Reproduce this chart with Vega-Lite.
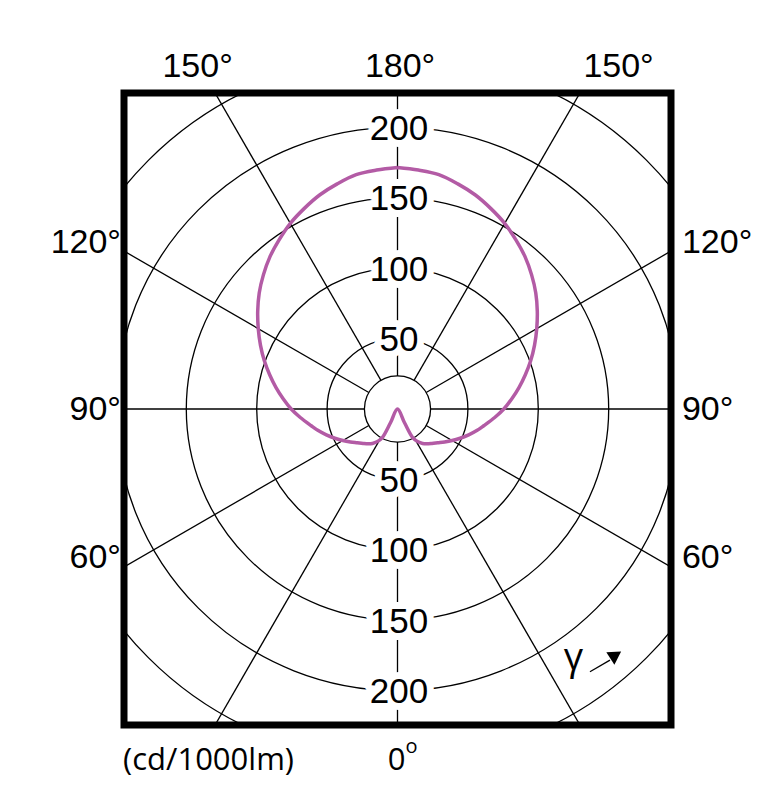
{
  "$schema": "https://vega.github.io/schema/vega-lite/v6.json",
  "width": 547,
  "height": 632,
  "autosize": {"type": "none"},
  "padding": {"left": 124, "top": 93, "right": 104, "bottom": 80},
  "background": "white",
  "config": {
    "view": {"stroke": "black", "strokeWidth": 7},
    "text": {"font": "Liberation Sans"}
  },
  "datasets": {
    "rings": [{"r": 23.5}, {"r": 50}, {"r": 100}, {"r": 150}, {"r": 200}, {"r": 250}],
    "spokes": [{"a": 0}, {"a": 30}, {"a": 60}, {"a": 90}, {"a": 120}, {"a": 150}, {"a": 180}, {"a": 210}, {"a": 240}, {"a": 270}, {"a": 300}, {"a": 330}],
    "curve": [
      {"a": -180, "cd": 171.5}, {"a": -175, "cd": 170.3}, {"a": -170, "cd": 169}, {"a": -165, "cd": 165.5}, {"a": -160, "cd": 161.7},
      {"a": -155, "cd": 157}, {"a": -150, "cd": 152.2}, {"a": -145, "cd": 146.6}, {"a": -140, "cd": 141}, {"a": -135, "cd": 134.7},
      {"a": -130, "cd": 128.2}, {"a": -125, "cd": 121.2}, {"a": -120, "cd": 114.2}, {"a": -115, "cd": 107.4}, {"a": -110, "cd": 100.7},
      {"a": -105, "cd": 94}, {"a": -100, "cd": 87.6}, {"a": -95, "cd": 81.4}, {"a": -90, "cd": 75.5}, {"a": -85, "cd": 69.3},
      {"a": -79, "cd": 62.4}, {"a": -75, "cd": 58.6}, {"a": -70, "cd": 53.8}, {"a": -65, "cd": 49.1}, {"a": -60, "cd": 44.8},
      {"a": -55, "cd": 40.8}, {"a": -50, "cd": 37.3}, {"a": -45, "cd": 34.6}, {"a": -40, "cd": 32.3}, {"a": -36, "cd": 30.3},
      {"a": -32, "cd": 27.5}, {"a": -28, "cd": 23}, {"a": -27, "cd": 11}, {"a": 0, "cd": 0},
      {"a": 27, "cd": 11}, {"a": 28, "cd": 23}, {"a": 32, "cd": 27.5}, {"a": 36, "cd": 30.3}, {"a": 40, "cd": 32.3},
      {"a": 45, "cd": 34.6}, {"a": 50, "cd": 37.3}, {"a": 55, "cd": 40.8}, {"a": 60, "cd": 44.8}, {"a": 65, "cd": 49.1},
      {"a": 70, "cd": 53.8}, {"a": 75, "cd": 58.6}, {"a": 79, "cd": 62.4}, {"a": 85, "cd": 69.3}, {"a": 90, "cd": 75.5},
      {"a": 95, "cd": 81.4}, {"a": 100, "cd": 87.6}, {"a": 105, "cd": 94}, {"a": 110, "cd": 100.7}, {"a": 115, "cd": 107.4},
      {"a": 120, "cd": 114.2}, {"a": 125, "cd": 121.2}, {"a": 130, "cd": 128.2}, {"a": 135, "cd": 134.7}, {"a": 140, "cd": 141},
      {"a": 145, "cd": 146.6}, {"a": 150, "cd": 152.2}, {"a": 155, "cd": 157}, {"a": 160, "cd": 161.7}, {"a": 165, "cd": 165.5},
      {"a": 170, "cd": 169}, {"a": 175, "cd": 170.3}, {"a": 180, "cd": 171.5}
    ],
    "rlabels": [
      {"t": "200", "v": 200, "s": 1}, {"t": "150", "v": 150, "s": 1}, {"t": "100", "v": 100, "s": 1}, {"t": "50", "v": 50, "s": 1},
      {"t": "50", "v": 50, "s": -1}, {"t": "100", "v": 100, "s": -1}, {"t": "150", "v": 150, "s": -1}, {"t": "200", "v": 200, "s": -1}
    ],
    "alabels": [
      {"t": "150°", "x": -142, "y": 236, "g": "top"},
      {"t": "180°", "x": 1.8, "y": 236, "g": "top"},
      {"t": "150°", "x": 157, "y": 236, "g": "top"},
      {"t": "120°", "x": -196.4, "y": 110.6, "g": "left"},
      {"t": "90°", "x": -196.4, "y": -7.5, "g": "left"},
      {"t": "60°", "x": -196.4, "y": -112.7, "g": "left"},
      {"t": "120°", "x": 202, "y": 110.6, "g": "right"},
      {"t": "90°", "x": 202, "y": -7.5, "g": "right"},
      {"t": "60°", "x": 202, "y": -112.7, "g": "right"}
    ],
    "bottom": [
      {"t": "(cd/1000lm)", "x": -194.9, "y": -256.4, "g": "unit"},
      {"t": "0", "x": -0.7, "y": -256.4, "g": "zero"},
      {"t": "o", "x": 9.9, "y": -244.3, "g": "sup"},
      {"t": "γ", "x": 125, "y": -185.5, "g": "gamma"}
    ],
    "arrow": [{"x": 136.7, "y": -186.6, "x2": 150.9, "y2": -178.3}],
    "head": [{"x": 155, "y": -174.7}]
  },
  "layer": [
    {
      "data": {"name": "rings"},
      "mark": {"type": "arc", "theta": 0, "theta2": 6.2832, "filled": false, "stroke": "black", "strokeWidth": 1.3, "clip": true},
      "encoding": {
        "radius": {"field": "r", "type": "quantitative", "stack": null, "scale": {"type": "linear", "domain": [0, 200], "range": [0, 281.6], "zero": true, "nice": false}}
      }
    },
    {
      "data": {"name": "spokes"},
      "transform": [
        {"calculate": "23.5*sin(datum.a*PI/180)", "as": "x0"},
        {"calculate": "-23.5*cos(datum.a*PI/180)", "as": "y0"},
        {"calculate": "400*sin(datum.a*PI/180)", "as": "x1"},
        {"calculate": "-400*cos(datum.a*PI/180)", "as": "y1"}
      ],
      "mark": {"type": "rule", "color": "black", "strokeWidth": 1.3, "clip": true},
      "encoding": {
        "x": {"field": "x0", "type": "quantitative", "scale": {"domain": [-194.25, 194.25], "nice": false, "zero": false}, "axis": null},
        "y": {"field": "y0", "type": "quantitative", "scale": {"domain": [-224.4, 224.4], "nice": false, "zero": false}, "axis": null},
        "x2": {"field": "x1"},
        "y2": {"field": "y1"}
      }
    },
    {
      "data": {"name": "curve"},
      "transform": [
        {"calculate": "datum.cd*sin(datum.a*PI/180)", "as": "px"},
        {"calculate": "-datum.cd*cos(datum.a*PI/180)", "as": "py"}
      ],
      "mark": {"type": "line", "color": "#B35BA5", "strokeWidth": 3.5, "clip": true, "strokeJoin": "round", "interpolate": "catmull-rom"},
      "encoding": {
        "x": {"field": "px", "type": "quantitative", "scale": {"domain": [-194.25, 194.25], "nice": false, "zero": false}, "axis": null},
        "y": {"field": "py", "type": "quantitative", "scale": {"domain": [-224.4, 224.4], "nice": false, "zero": false}, "axis": null},
        "order": {"field": "a", "type": "quantitative"}
      }
    },
    {
      "data": {"name": "rlabels"},
      "transform": [{"calculate": "datum.s*datum.v - 8.9", "as": "ly"}],
      "mark": {"type": "text", "fontSize": 35, "align": "center", "baseline": "alphabetic", "fill": "white", "stroke": "white", "strokeWidth": 14, "strokeJoin": "round"},
      "encoding": {
        "x": {"datum": 1, "type": "quantitative"},
        "y": {"field": "ly", "type": "quantitative"},
        "text": {"field": "t"}
      }
    },
    {
      "data": {"name": "rlabels"},
      "transform": [{"calculate": "datum.s*datum.v - 8.9", "as": "ly"}],
      "mark": {"type": "text", "fontSize": 35, "align": "center", "baseline": "alphabetic", "color": "black"},
      "encoding": {
        "x": {"datum": 1, "type": "quantitative"},
        "y": {"field": "ly", "type": "quantitative"},
        "text": {"field": "t"}
      }
    },
    {
      "data": {"name": "alabels"},
      "transform": [{"filter": "datum.g == 'top'"}],
      "mark": {"type": "text", "fontSize": 34, "align": "center", "baseline": "alphabetic", "color": "black"},
      "encoding": {
        "x": {"field": "x", "type": "quantitative"},
        "y": {"field": "y", "type": "quantitative"},
        "text": {"field": "t"}
      }
    },
    {
      "data": {"name": "alabels"},
      "transform": [{"filter": "datum.g == 'left'"}],
      "mark": {"type": "text", "fontSize": 34, "align": "right", "baseline": "alphabetic", "color": "black"},
      "encoding": {
        "x": {"field": "x", "type": "quantitative"},
        "y": {"field": "y", "type": "quantitative"},
        "text": {"field": "t"}
      }
    },
    {
      "data": {"name": "alabels"},
      "transform": [{"filter": "datum.g == 'right'"}],
      "mark": {"type": "text", "fontSize": 34, "align": "left", "baseline": "alphabetic", "color": "black"},
      "encoding": {
        "x": {"field": "x", "type": "quantitative"},
        "y": {"field": "y", "type": "quantitative"},
        "text": {"field": "t"}
      }
    },
    {
      "data": {"name": "bottom"},
      "transform": [{"filter": "datum.g == 'unit'"}],
      "mark": {"type": "text", "font": "Open Sans", "fontSize": 31, "align": "left", "baseline": "alphabetic", "color": "black"},
      "encoding": {
        "x": {"field": "x", "type": "quantitative"},
        "y": {"field": "y", "type": "quantitative"},
        "text": {"field": "t"}
      }
    },
    {
      "data": {"name": "bottom"},
      "transform": [{"filter": "datum.g == 'zero'"}],
      "mark": {"type": "text", "font": "Open Sans", "fontSize": 31, "align": "center", "baseline": "alphabetic", "color": "black"},
      "encoding": {
        "x": {"field": "x", "type": "quantitative"},
        "y": {"field": "y", "type": "quantitative"},
        "text": {"field": "t"}
      }
    },
    {
      "data": {"name": "bottom"},
      "transform": [{"filter": "datum.g == 'sup'"}],
      "mark": {"type": "text", "font": "Open Sans", "fontSize": 20, "align": "center", "baseline": "alphabetic", "color": "black"},
      "encoding": {
        "x": {"field": "x", "type": "quantitative"},
        "y": {"field": "y", "type": "quantitative"},
        "text": {"field": "t"}
      }
    },
    {
      "data": {"name": "bottom"},
      "transform": [{"filter": "datum.g == 'gamma'"}],
      "mark": {"type": "text", "font": "Open Sans", "fontSize": 38, "align": "center", "baseline": "alphabetic", "color": "black"},
      "encoding": {
        "x": {"field": "x", "type": "quantitative"},
        "y": {"field": "y", "type": "quantitative"},
        "text": {"field": "t"}
      }
    },
    {
      "data": {"name": "arrow"},
      "mark": {"type": "rule", "color": "black", "strokeWidth": 1.3},
      "encoding": {
        "x": {"field": "x", "type": "quantitative"},
        "y": {"field": "y", "type": "quantitative"},
        "x2": {"field": "x2"},
        "y2": {"field": "y2"}
      }
    },
    {
      "data": {"name": "head"},
      "mark": {"type": "point", "shape": "triangle-up", "filled": true, "color": "black", "opacity": 1, "size": 220, "angle": 57},
      "encoding": {
        "x": {"field": "x", "type": "quantitative"},
        "y": {"field": "y", "type": "quantitative"}
      }
    }
  ]
}
